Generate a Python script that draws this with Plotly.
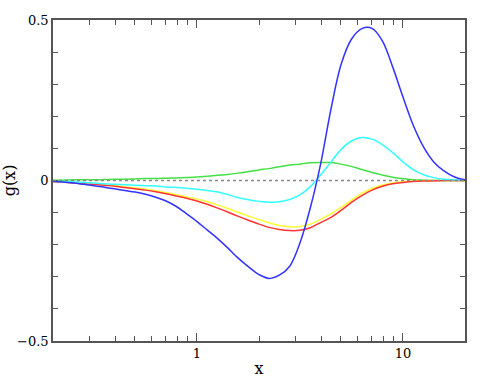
import plotly.graph_objects as go

# values, every 0.05 decade in x
x = [0.2, 0.224, 0.251, 0.282, 0.316, 0.355, 0.398, 0.447, 0.501, 0.562,
     0.631, 0.708, 0.794, 0.891, 1.0, 1.12, 1.26, 1.41, 1.58, 1.78,
     2.0, 2.24, 2.51, 2.82, 3.16, 3.55, 3.98, 4.47, 5.01, 5.62,
     6.31, 7.08, 7.94, 8.91, 10.0, 11.2, 12.6, 14.1, 15.8, 17.8, 20.0]

g_blue = [-0.003, -0.005, -0.008, -0.012, -0.016, -0.021, -0.026, -0.031, -0.036, -0.043,
          -0.052, -0.064, -0.081, -0.104, -0.128, -0.154, -0.181, -0.210, -0.241, -0.269,
          -0.293, -0.305, -0.295, -0.267, -0.195, -0.085, 0.050, 0.222, 0.362, 0.440,
          0.473, 0.474, 0.435, 0.354, 0.260, 0.173, 0.104, 0.058, 0.030, 0.011, 0.002]
g_cyan = [-0.002, -0.003, -0.004, -0.006, -0.008, -0.010, -0.012, -0.013, -0.015, -0.016,
          -0.017, -0.020, -0.022, -0.024, -0.027, -0.031, -0.036, -0.044, -0.053, -0.060,
          -0.065, -0.068, -0.066, -0.059, -0.045, -0.019, 0.017, 0.058, 0.097, 0.123,
          0.134, 0.129, 0.112, 0.087, 0.058, 0.034, 0.018, 0.009, 0.004, 0.002, 0.001]
g_green = [0.001, 0.001, 0.002, 0.002, 0.002, 0.003, 0.004, 0.004, 0.005, 0.006,
           0.006, 0.007, 0.008, 0.009, 0.011, 0.013, 0.016, 0.019, 0.023, 0.028,
           0.033, 0.037, 0.043, 0.048, 0.051, 0.055, 0.056, 0.056, 0.051, 0.044,
           0.034, 0.025, 0.017, 0.010, 0.006, 0.002, 0.001, 0.0, 0.0, 0.0, 0.0]
g_yellow = [-0.003, -0.005, -0.007, -0.009, -0.011, -0.014, -0.016, -0.020, -0.023, -0.027,
            -0.032, -0.038, -0.044, -0.051, -0.058, -0.066, -0.076, -0.087, -0.099, -0.111,
            -0.122, -0.132, -0.140, -0.144, -0.143, -0.136, -0.121, -0.104, -0.084, -0.061,
            -0.040, -0.025, -0.014, -0.008, -0.004, -0.002, -0.001, 0.0, 0.0, 0.0, 0.0]
g_red = [-0.003, -0.005, -0.008, -0.010, -0.012, -0.015, -0.018, -0.022, -0.026, -0.030,
         -0.035, -0.041, -0.048, -0.055, -0.064, -0.074, -0.086, -0.098, -0.111, -0.124,
         -0.136, -0.146, -0.153, -0.156, -0.155, -0.147, -0.131, -0.115, -0.093, -0.068,
         -0.047, -0.030, -0.018, -0.010, -0.006, -0.003, -0.0015, -0.001, 0.0, 0.0, 0.0]

y_ticks = [-0.5, -0.4, -0.3, -0.2, -0.1, 0, 0.1, 0.2, 0.3, 0.4, 0.5]
y_labels = ['\u22120.5', '', '', '', '', '0', '', '', '', '', '0.5']
x_minor = [0.3, 0.4, 0.5, 0.6, 0.7, 0.8, 0.9, 2, 3, 4, 5, 6, 7, 8, 9]

fig = go.Figure()

fig.add_hline(y=0, line=dict(color='#888888', width=1.5, dash='dot'))

curves = [
    (g_green, '#44e044'),
    (g_yellow, '#ffff33'),
    (g_red, '#ff3333'),
    (g_cyan, '#33ffff'),
    (g_blue, '#3333ff'),
]
for vals, col in curves:
    fig.add_trace(go.Scatter(x=x, y=vals, mode='lines',
                             line=dict(color=col, width=1.5, shape='spline', smoothing=1.0),
                             showlegend=False))

axcol = '#555555'
fig.update_layout(
    width=491, height=382,
    margin=dict(l=53, r=26, t=20, b=41),
    plot_bgcolor='white', paper_bgcolor='white',
    font=dict(family='DejaVu Serif', size=13, color='black'),
    xaxis=dict(
        type='log', range=[-0.69897, 1.30103], automargin=False,
        tickmode='array', tickvals=[1, 10], ticktext=['1', '10'],
        ticks='inside', ticklen=8, tickcolor=axcol, tickwidth=1,
        minor=dict(tickmode='array', tickvals=x_minor, ticks='inside',
                   ticklen=5, tickcolor=axcol, showgrid=False),
        showgrid=False, zeroline=False,
        showline=True, linecolor=axcol, linewidth=1.5, mirror='ticks',
        title=dict(text='x', standoff=2),
    ),
    yaxis=dict(
        range=[-0.5, 0.5], automargin=False,
        tickmode='array', tickvals=y_ticks, ticktext=y_labels,
        ticks='inside', ticklen=5, tickcolor=axcol, tickwidth=1,
        showgrid=False, zeroline=False,
        showline=True, linecolor=axcol, linewidth=1.5, mirror='ticks',
        title=dict(text='g(x)', standoff=4),
    ),
)

# page body has a default margin; drop it so the plot sits at the window corner
fig.write_html("out.html", config={'displayModeBar': False},
               post_script="document.body.style.margin='0';")
